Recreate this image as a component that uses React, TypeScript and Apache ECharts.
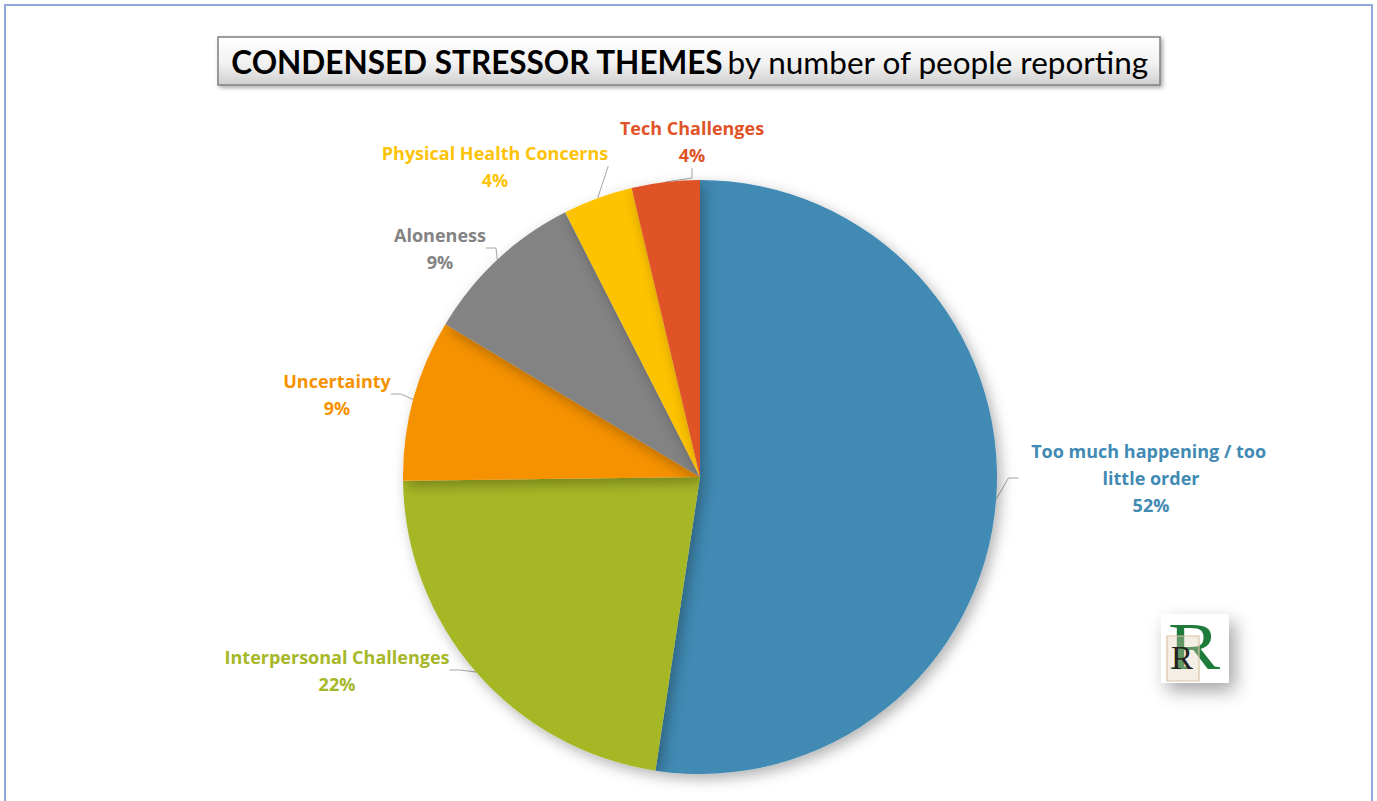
import React, { useEffect, useRef } from "react";
import * as echarts from "echarts";

const categories = [
  "Too much happening / too little order",
  "Interpersonal Challenges",
  "Uncertainty",
  "Aloneness",
  "Physical Health Concerns",
  "Tech Challenges",
];
const shares = [52.4, 22.4, 8.8, 8.9, 3.8, 3.7];
const colors = ["#418AB3", "#A6B727", "#F69200", "#838383", "#FEC306", "#DF5327"];
const labelCenters: [number, number][] = [
  [1151, 478],
  [337, 670],
  [337, 394],
  [440, 248],
  [495, 166],
  [692, 141],
];

export default function App() {
  const ref = useRef<HTMLDivElement>(null);
  useEffect(() => {
    if (!ref.current) return;
    const chart = echarts.init(ref.current, null, { renderer: "svg" });
    const font = "Lato, 'Open Sans', sans-serif";
    const labelFont = "'Open Sans', Lato, sans-serif";
    chart.setOption({
      animation: false,
      backgroundColor: "#ffffff",
      graphic: [
        {
          type: "rect",
          shape: { x: 5, y: 5, width: 1367, height: 800 },
          style: { fill: "none", stroke: "#8FA8DA", lineWidth: 2 },
          silent: true,
        },
        {
          type: "rect",
          shape: { x: 218, y: 37, width: 942, height: 48 },
          style: {
            fill: new echarts.graphic.LinearGradient(0, 0, 0, 1, [
              { offset: 0, color: "#ffffff" },
              { offset: 0.55, color: "#f2f2f2" },
              { offset: 1, color: "#cfcfcf" },
            ]),
            stroke: "#808080",
            lineWidth: 1.5,
            shadowBlur: 4,
            shadowColor: "rgba(0,0,0,0.35)",
            shadowOffsetX: 2,
            shadowOffsetY: 2,
          },
        },
        {
          type: "text",
          x: 690,
          y: 62,
          style: {
            text: "{b|CONDENSED STRESSOR THEMES} {r|by number of people reporting}",
            align: "center",
            verticalAlign: "middle",
            rich: {
              b: { fontFamily: font, fontWeight: "bold", fontSize: 31.5, fill: "#000" },
              r: { fontFamily: font, fontWeight: "normal", fontSize: 31.5, fill: "#000" },
            },
          },
        },
        {
          type: "rect",
          shape: { x: 1161, y: 614, width: 68, height: 69 },
          style: {
            fill: "#ffffff",
            shadowBlur: 18,
            shadowColor: "rgba(0,0,0,0.35)",
            shadowOffsetX: 6,
            shadowOffsetY: 8,
          },
        },
        {
          type: "text",
          x: 1194,
          y: 680,
          scaleX: 1.15,
          style: {
            text: "R",
            fontFamily: "'Liberation Serif', serif",
            fontSize: 68,
            fill: "#1E7B3A",
            align: "center",
            verticalAlign: "bottom",
          },
        },
        {
          type: "rect",
          shape: { x: 1167, y: 636, width: 32, height: 45 },
          style: { fill: "rgba(225,205,180,0.35)", stroke: "#D8C2A6", lineWidth: 1.2 },
        },
        {
          type: "text",
          x: 1182,
          y: 674,
          style: {
            text: "R",
            fontFamily: "'Liberation Serif', serif",
            fontSize: 33,
            fill: "#222222",
            align: "center",
            verticalAlign: "bottom",
          },
        },
      ],
      series: [
        {
          type: "pie",
          center: [700, 477],
          radius: 297,
          startAngle: 90,
          clockwise: true,
          percentPrecision: 0,
          itemStyle: {
            shadowBlur: 14,
            shadowColor: "rgba(0,0,0,0.3)",
            shadowOffsetX: 4,
            shadowOffsetY: 5,
          },
          label: {
            show: true,
            position: "outside",
            formatter: "{b}\n{d}%",
            fontFamily: labelFont,
            fontWeight: "bold",
            fontSize: 18,
            lineHeight: 27,
            align: "center",
          },
          labelLine: {
            show: true,
            length: 15,
            length2: 10,
            lineStyle: { color: "#A6A6A6", width: 1 },
          },
          labelLayout: (params: any) => {
            const p = labelCenters[params.dataIndex];
            return { x: p[0], y: p[1], align: "center", verticalAlign: "middle", hideOverlap: false };
          },
          data: categories.map((name, i) => ({
            name,
            value: shares[i],
            itemStyle: { color: colors[i] },
            label:
              i === 0
                ? { color: colors[i], width: 265, overflow: "break" }
                : { color: colors[i] },
          })),
        },
      ],
    });
    return () => chart.dispose();
  }, []);
  return (
    <div
      ref={ref}
      style={{ position: "fixed", left: 0, top: 0, width: 1377, height: 801 }}
    />
  );
}
